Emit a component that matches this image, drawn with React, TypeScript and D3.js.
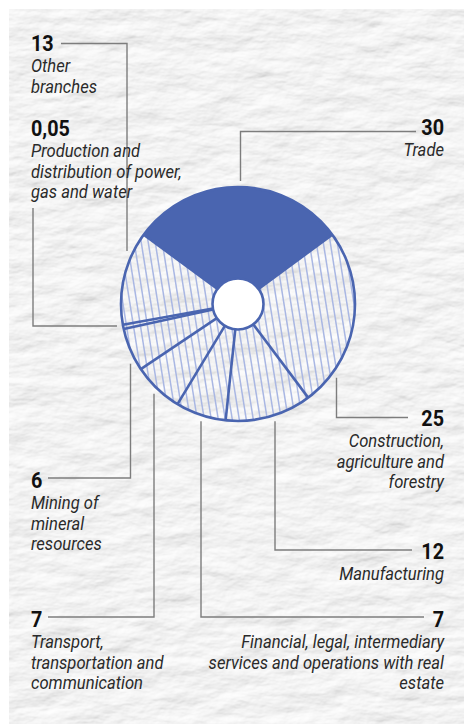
import React from "react";
import * as d3 from "d3";

// ---------- data ----------
const categories = [
  "Trade",
  "Construction, agriculture and forestry",
  "Manufacturing",
  "Financial, legal, intermediary services and operations with real estate",
  "Transport, transportation and communication",
  "Mining of mineral resources",
  "Production and distribution of power, gas and water",
  "Other branches",
];
const values = [30, 25, 12, 7, 7, 6, 0.05, 13];
const valueLabels = ["30", "25", "12", "7", "7", "6", "0,05", "13"];
const labelLines = [
  ["Trade"],
  ["Construction,", "agriculture and", "forestry"],
  ["Manufacturing"],
  ["Financial, legal, intermediary", "services and operations with real", "estate"],
  ["Transport,", "transportation and", "communication"],
  ["Mining of", "mineral", "resources"],
  ["Production and", "distribution of power,", "gas and water"],
  ["Other", "branches"],
];

// ---------- layout ----------
const W = 464;
const H = 724;
const CX = 238;
const CY = 304;
const R = 117;
const R0 = 25.5;
const GAP = 6;
const BLUE = "#4a65b0";
const HATCH = "#a9b7e3";
const LEAD = "#7d7d7d";

type Lay = { side: "l" | "r"; tx: number; ny: number; kind: "v" | "h"; lx: number; ly: number; ex: number; top?: boolean };
const layout: Lay[] = [
  { side: "r", tx: 444, ny: 135, kind: "v", lx: 240.5, ly: 131.5, ex: 416, top: true },
  { side: "r", tx: 444, ny: 426, kind: "v", lx: 336.5, ly: 417.5, ex: 408 },
  { side: "r", tx: 444, ny: 559, kind: "v", lx: 275, ly: 550, ex: 412 },
  { side: "r", tx: 444, ny: 627, kind: "v", lx: 201, ly: 617, ex: 424 },
  { side: "l", tx: 31, ny: 627, kind: "v", lx: 154, ly: 617, ex: 48 },
  { side: "l", tx: 31, ny: 488, kind: "v", lx: 130.5, ly: 478, ex: 48 },
  { side: "l", tx: 31, ny: 136, kind: "h", lx: 33, ly: 326, ex: 208 },
  { side: "l", tx: 31, ny: 51, kind: "v", lx: 127, ly: 43.5, ex: 61, top: true },
];

const LINE_H = 20.6;
const FIRST_GAP = 21.2;
const NUM_SIZE = 22;
const NUM_SX = 0.9;
const LAB_SIZE = 17.5;
const LAB_SX = 0.95;
const HATCH_STEP = 7;
const HATCH_TILT = (9 * Math.PI) / 180;

export default function App() {
  const data = values.map((v, i) => ({ v, i }));
  const minShare = 0.6; // minimal visible wedge width
  const total = d3.sum(values.map((v) => Math.max(v, minShare)));
  const startA = -(values[0] / total) * Math.PI;
  const pie = d3
    .pie<{ v: number; i: number }>()
    .value((d) => Math.max(d.v, minShare))
    .sort(null)
    .startAngle(startA)
    .endAngle(startA + 2 * Math.PI);
  const arcs = pie(data);
  const arc = d3.arc<any>().innerRadius(R0).outerRadius(R);

  const RL = R + GAP;
  const leaders = layout.map((l) => {
    if (l.kind === "v") {
      const dx = l.lx - CX;
      const h = Math.sqrt(RL * RL - dx * dx);
      const y0 = l.top ? CY - h : CY + h;
      return `M${l.lx},${y0}V${l.ly}H${l.ex}`;
    } else {
      const dy = l.ly - CY;
      const w = Math.sqrt(RL * RL - dy * dy);
      const x0 = CX - w;
      return `M${x0},${l.ly}H${l.lx}V${l.ex}`;
    }
  });

  const t = Math.tan(HATCH_TILT) * (R + 5);
  const hatchXs = d3.range(-R - 40, R + 40, HATCH_STEP);

  return (
    <svg
      width={W}
      height={H}
      style={{ position: "absolute", left: 0, top: 0, display: "block" }}
    >
      <defs>
        <filter id="paper" x="0" y="0" width="100%" height="100%">
          <feTurbulence type="fractalNoise" baseFrequency="0.022 0.05" numOctaves="5" seed="11" result="noise" />
          <feDiffuseLighting in="noise" lightingColor="#ffffff" surfaceScale="2.2" result="lit">
            <feDistantLight azimuth="60" elevation="63" />
          </feDiffuseLighting>
        </filter>
        <clipPath id="disc">
          <circle cx={0} cy={0} r={R} />
        </clipPath>
      </defs>
      <rect x="0" y="0" width={W} height={H} fill="#ffffff" />
      <rect x="9" y="9" width={W - 9} height={H - 9} fill="#ececec" filter="url(#paper)" />

      {/* leaders */}
      <g fill="none" stroke={LEAD} strokeWidth={1.4}>
        {leaders.map((d, i) => (
          <path key={i} d={d} />
        ))}
      </g>

      {/* pie */}
      <g transform={`translate(${CX},${CY})`}>
        <g clipPath="url(#disc)" stroke={HATCH} strokeWidth={1.5}>
          {hatchXs.map((x, i) => (
            <line key={i} x1={x - t} y1={-R - 5} x2={x + t} y2={R + 5} />
          ))}
        </g>
        <path d={arc(arcs[0]) || ""} fill={BLUE} stroke="none" />
        {arcs.map((a, i) => {
          const ang = a.startAngle;
          const s = Math.sin(ang);
          const c = -Math.cos(ang);
          return (
            <line
              key={"s" + i}
              x1={s * R0}
              y1={c * R0}
              x2={s * R}
              y2={c * R}
              stroke={BLUE}
              strokeWidth={2.6}
            />
          );
        })}
        <circle r={R} fill="none" stroke={BLUE} strokeWidth={2.6} />
        <circle r={R0} fill="#ffffff" stroke={BLUE} strokeWidth={2.6} />
      </g>

      {/* labels */}
      {layout.map((l, i) => {
        const anchor = l.side === "r" ? "end" : "start";
        return (
          <g key={"t" + i} fontFamily="Roboto, 'Noto Sans', sans-serif">
            <text
              transform={`translate(${l.tx},${l.ny}) scale(${NUM_SX},1)`}
              textAnchor={anchor}
              fontSize={NUM_SIZE}
              fontWeight={700}
              fill="#111"
            >
              {valueLabels[i]}
            </text>
            {labelLines[i].map((s, j) => (
              <text
                key={j}
                transform={`translate(${l.tx},${l.ny + FIRST_GAP + j * LINE_H}) scale(${LAB_SX},1)`}
                textAnchor={anchor}
                fontSize={LAB_SIZE}
                fontStyle="italic"
                fill="#2a2a2a"
              >
                {s}
              </text>
            ))}
          </g>
        );
      })}
    </svg>
  );
}
